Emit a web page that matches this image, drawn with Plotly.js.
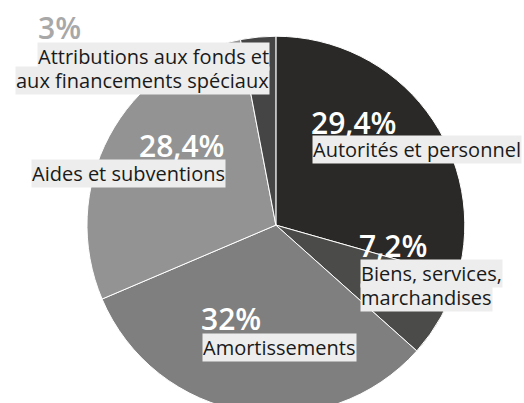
<!DOCTYPE html>
<html>
<head>
<meta charset="utf-8">
<script src="https://cdn.plot.ly/plotly-3.0.1.min.js"></script>
<style>
html, body { margin:0; padding:0; overflow:hidden; width:524px; height:403px; background:#fff; }
#chart { width:524px; height:420px; }
</style>
</head>
<body>
<div id="chart"></div>
<script>
// Data
var categories = ["Autorités et personnel", "Biens, services, marchandises", "Amortissements", "Aides et subventions", "Attributions aux fonds et aux financements spéciaux"];
var shares = [29.4, 7.2, 32, 28.4, 3];
var percentLabels = ["29,4%", "7,2%", "32%", "28,4%", "3%"];
var labelLines = [["Autorités et personnel"], ["Biens, services,", "marchandises"], ["Amortissements"], ["Aides et subventions"], ["Attributions aux fonds et", "aux financements spéciaux"]];
var titleText = "Charges par nature";

var colors = ["#2a2927", "#4b4b49", "#7f7f7f", "#939393", "#454545"];

var W = 524, H = 420;
function px(x) { return x / W; }
function py(y) { return 1 - y / H; }

var FONT = "'Open Sans', 'DejaVu Sans', sans-serif";

// label placement (pixels): [x, y, anchor] for percent, then lines
var place = [
  {pct:[310,101,'left'], lines:[[312,135,'left']], pctColor:'#ffffff'},
  {pct:[358,224,'left'], lines:[[360,259,'left'],[360,283,'left']], pctColor:'#ffffff'},
  {pct:[200,297,'left'], lines:[[202,333,'left']], pctColor:'#ffffff'},
  {pct:[226,124,'right'], lines:[[226,159,'right']], pctColor:'#ffffff'},
  {pct:[37,6,'left'], lines:[[270,42,'right'],[270,66,'right']], pctColor:'#a8a8a8'}
];

var annotations = [];
for (var i = 0; i < categories.length; i++) {
  var p = place[i];
  annotations.push({
    x: px(p.pct[0]), y: py(p.pct[1]), xref:'paper', yref:'paper',
    xanchor: p.pct[2], yanchor:'top', showarrow:false,
    text: percentLabels[i],
    font: {family: FONT, size: 30, color: p.pctColor, weight: 600},
    borderpad: 0
  });
  for (var j = 0; j < labelLines[i].length; j++) {
    var l = p.lines[j];
    annotations.push({
      x: px(l[0]), y: py(l[1]), xref:'paper', yref:'paper',
      xanchor: l[2], yanchor:'top', showarrow:false,
      text: labelLines[i][j],
      font: {family: FONT, size: 20, color: '#1a1a1a'},
      bgcolor: '#ededed', borderpad: 0
    });
  }
}
// partially visible title at top
annotations.push({
  x: px(46), y: py(3), xref:'paper', yref:'paper', xanchor:'left', yanchor:'bottom',
  showarrow:false, text: titleText,
  font: {family: FONT, size: 30, color:'#1a1a1a'}, borderpad:0
});

var trace = {
  type: 'pie',
  labels: categories,
  values: shares,
  sort: false,
  direction: 'clockwise',
  rotation: 0,
  textinfo: 'none',
  hoverinfo: 'skip',
  marker: {colors: colors, line: {color: '#ffffff', width: 1}},
  domain: {x: [0.166, 0.887], y: [0.014, 0.914]},
  showlegend: false
};

var layout = {
  width: W, height: H,
  margin: {l:0, r:0, t:0, b:0},
  paper_bgcolor: '#ffffff',
  showlegend: false,
  annotations: annotations
};

Plotly.newPlot('chart', [trace], layout, {displayModeBar:false, staticPlot:true});
</script>
</body>
</html>
